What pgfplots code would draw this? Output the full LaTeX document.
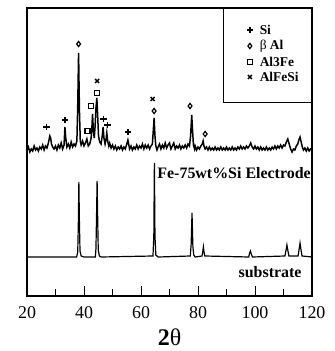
\documentclass[border=0pt]{standalone}
\usepackage{fontspec}
\setmainfont{Liberation Serif}
\usepackage{pgfplots}
\pgfplotsset{compat=1.18}
\begin{document}
\begin{tikzpicture}
\begin{axis}[
  at={(0,0)}, anchor=south west,
  scale only axis, width=285bp, height=288bp,
  xmin=20, xmax=120, ymin=0, ymax=288,
  axis line style={line width=1.1pt},
  xtick={20,40,...,120}, minor xtick={30,50,...,110},
  ytick=\empty,
  tick align=inside, xtick pos=bottom,
  major tick length=10bp, minor tick length=6.5bp,
  every tick/.style={line width=1pt, black},
  /pgf/number format/assume math mode=true,
  xticklabel style={font=\fontsize{18}{18}\selectfont, yshift=-7bp},
  xlabel={\textbf{2}θ},
  xlabel style={font=\fontsize{24}{24}\selectfont, inner sep=0pt, at={(axis description cs:0.5,0)}, anchor=center, yshift=-41bp},
]
% upper trace (electrode)
\addplot[black, line width=1.5pt] coordinates {
(20,146)(20.5,149)(21,144)(21.5,147)(22,145)(22.5,150)(23,146)(23.5,148)(24,145)(24.5,149)
(25,147)(25.5,151)(26,146)(26.5,150)(27,148)(27.5,153)(28,160)(28.3,158)(28.6,152)(29,149)
(29.5,147)(30,150)(30.5,146)(31,151)(31.5,148)(32,153)(32.5,147)(33,151)(33.3,169)(33.6,158)
(34,149)(34.5,152)(35,148)(35.5,154)(36,149)(36.5,152)(37,150)(37.5,155)(37.8,190)(38.1,243)
(38.4,185)(38.7,155)(39,151)(39.5,155)(40,150)(40.5,153)(41,157)(41.5,150)(42,152)(42.5,158)
(42.8,170)(43.0,182)(43.3,165)(43.6,158)(43.9,170)(44.2,188)(44.5,198)(44.8,180)(45.1,160)(45.5,154)
(46,152)(46.4,160)(46.7,169)(47,158)(47.4,152)(47.8,158)(48.0,163)(48.3,155)(48.7,150)(49,153)
(49.5,148)(50,151)(50.5,147)(51,150)(51.5,146)(52,149)(52.5,147)(53,150)(53.5,146)(54,149)
(54.5,147)(55,152)(55.4,156)(55.8,150)(56,147)(56.5,150)(57,146)(57.5,149)(58,147)(58.5,151)
(59,147)(59.5,150)(60,148)(60.5,152)(61,147)(61.5,151)(62,148)(62.5,151)(63,147)(63.5,150)
(64,152)(64.3,165)(64.6,178)(64.9,160)(65.2,150)(65.6,146)(66,149)(66.5,152)(67,147)(67.5,151)
(68,148)(68.5,153)(69,148)(69.5,151)(70,153)(70.5,147)(71,150)(71.5,153)(72,147)(72.5,150)
(73,148)(73.5,151)(74,147)(74.5,150)(75,148)(75.5,151)(76,148)(76.5,152)(77,150)(77.4,160)
(77.8,181)(78.1,165)(78.4,151)(78.8,147)(79,150)(79.5,146)(80,149)(80.5,147)(81,150)(81.5,152)
(81.8,155)(82.1,150)(82.5,147)(83,149)(83.5,146)(84,149)(84.5,146)(85,148)(85.5,146)(86,149)
(86.5,146)(87,148)(87.5,146)(88,149)(88.5,146)(89,148)(89.5,146)(90,149)(90.5,146)(91,148)
(91.5,146)(92,149)(92.5,146)(93,148)(93.5,146)(94,149)(94.5,147)(95,150)(95.5,147)(96,149)
(96.5,147)(97,150)(97.5,148)(98,150)(98.5,153)(99,149)(99.5,147)(100,150)(100.5,147)(101,149)
(101.5,146)(102,149)(102.5,146)(103,148)(103.5,146)(104,149)(104.5,146)(105,148)(105.5,146)(106,149)
(106.5,147)(107,150)(107.5,147)(108,150)(108.5,148)(109,151)(109.5,148)(110,151)(110.5,150)(111,154)
(111.5,157)(112,152)(112.5,147)(113,144)(113.5,147)(114,146)(114.5,150)(115,152)(115.5,157)(115.8,159)
(116.2,154)(116.6,149)(117,146)(117.5,148)(118,145)(118.5,148)(119,145)(119.5,147)(120,146)
};
% lower trace (substrate)
\addplot[black, line width=1.2pt] coordinates {
(20,39)(37.4,39)(37.8,44)(38.0,70)(38.2,114)(38.4,72)(38.6,45)(39,40)(40,39)
(44,39)(44.2,48)(44.4,80)(44.6,115)(44.8,78)(45.0,46)(45.4,40)(46,39)
(64.2,40)(64.5,60)(64.7,133)(64.9,60)(65.2,41)(66,39)
(77.3,40)(77.6,52)(77.9,83)(78.2,50)(78.5,41)(79,39)
(81.4,40)(81.7,45)(81.9,49)(82.1,44)(82.4,40)
(97.8,39)(98.1,43)(98.4,45)(98.7,42)(99.1,39)
(110.5,40)(110.9,46)(111.2,51)(111.5,46)(111.9,40)
(115.1,40)(115.5,47)(115.8,53)(116.1,47)(116.5,40)(120,39)
};
% phase markers (peaks) and key markers
\addplot[only marks, black, mark=+, mark size=3.3pt, line width=1.6pt] coordinates {
(26.9,169)(33.4,176)(46.8,177)(48.2,171)(55.5,164)(98.2,266)};
\addplot[only marks, black, mark=diamond, mark size=2.6pt, line width=1.2pt] coordinates {
(38.1,252)(64.6,185)(77.2,190)(82.5,162)(98.2,250)};
\addplot[only marks, black, mark=square, mark size=2.5pt, line width=1.4pt] coordinates {
(41.2,165)(42.5,190)(44.6,203)(98.2,234)};
\addplot[only marks, black, mark=x, mark size=2.8pt, line width=1.5pt] coordinates {
(44.6,215)(64.1,197)(98.2,219)};
\draw[line width=0.8pt] (axis cs:88.8,288) -- (axis cs:88.8,194) -- (axis cs:120,194);
\begin{scope}[every node/.style={anchor=west, inner sep=0pt, font=\fontsize{13.5}{13.5}\selectfont\bfseries}]
\node at (axis cs:101.6,266) {Si};
\node at (axis cs:101.6,250) {\textmd{β} Al};
\node at (axis cs:101.6,234) {Al3Fe};
\node at (axis cs:101.6,219) {AlFeSi};
\end{scope}
\node[anchor=east, font=\fontsize{16}{16}\selectfont\bfseries, inner sep=0.5bp] at (axis cs:119.8,123) {Fe-75wt\%Si Electrode};
\node[font=\fontsize{16}{16}\selectfont\bfseries] at (axis cs:105.3,24) {substrate};
\end{axis}
\pgfresetboundingbox
\path[use as bounding box] (-27bp,-55bp) rectangle (308bp,296bp);
\end{tikzpicture}
\end{document}
